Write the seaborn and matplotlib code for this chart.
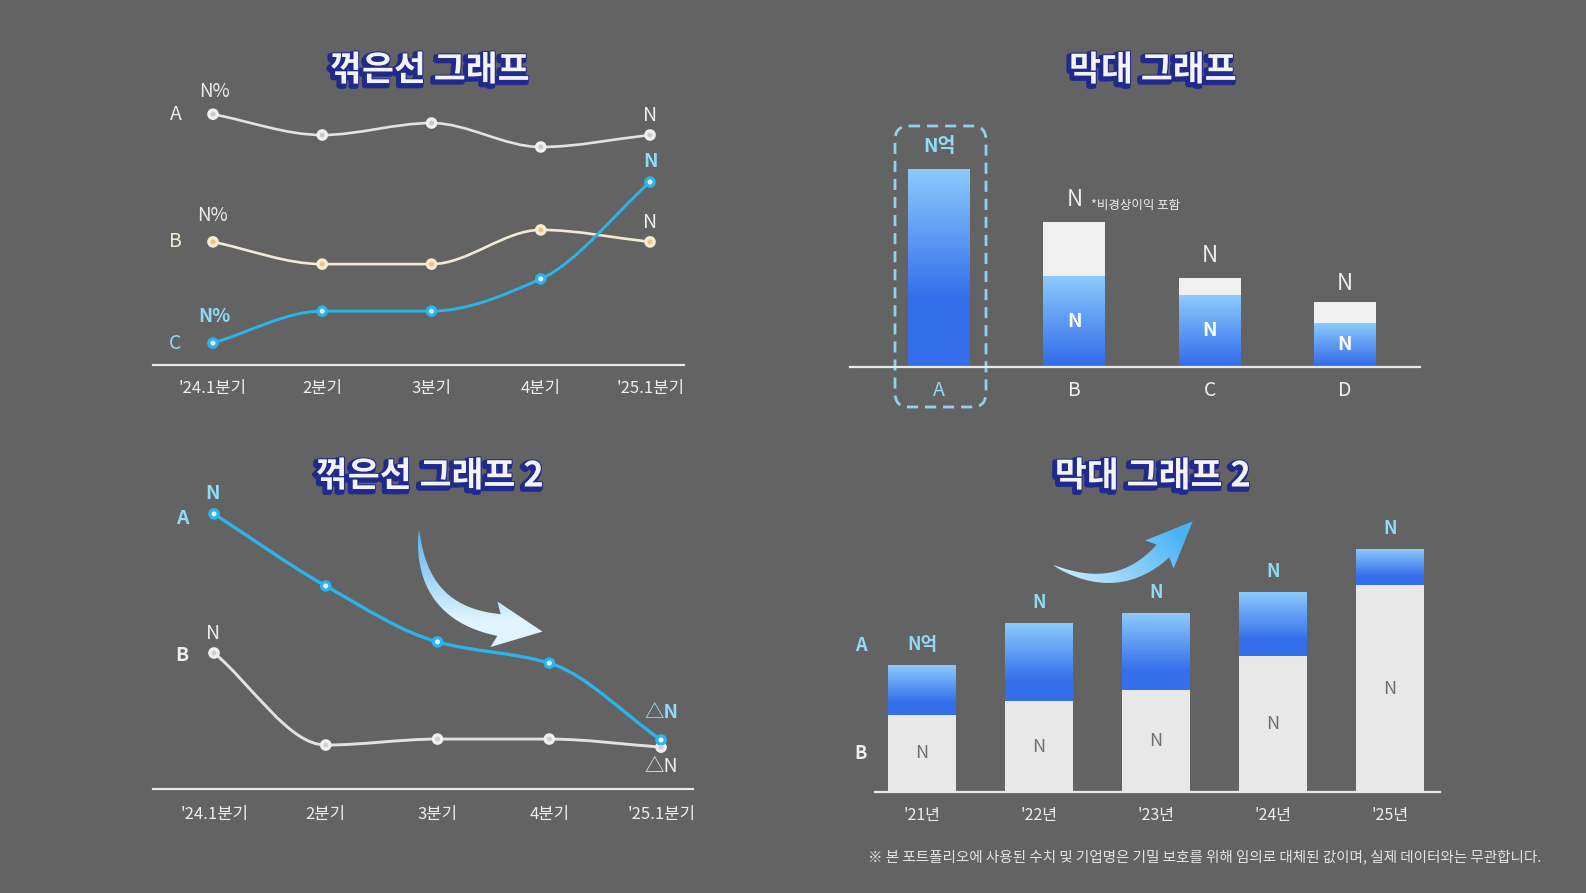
import numpy as np
import pandas as pd
import seaborn as sns
import matplotlib
matplotlib.use("Agg")
import matplotlib.pyplot as plt
import matplotlib.patheffects as pe
from matplotlib.path import Path
from matplotlib.patches import PathPatch, FancyBboxPatch, Polygon

BG = "#636363"
SKY = "#8edcf5"
BLUE = "#2bb4ec"
WHITE = "#eeeeee"
CREAM = "#f2ead4"
NAVY = "#1f2a8c"

# ---- data ----
quarters = ["'24.1분기", "2분기", "3분기", "4분기", "'25.1분기"]
line1_a = [88.0, 80.7, 84.9, 76.5, 80.7]
line1_b = [43.2, 35.4, 35.4, 47.4, 43.2]
line1_c = [7.7, 18.9, 18.9, 30.2, 64.2]

line2_a = [92.0, 67.9, 49.2, 42.1, 16.4]
line2_b = [45.5, 14.7, 16.7, 16.7, 14.0]

companies = ["A", "B", "C", "D"]
bar1_total = [198, 145, 89, 65]
bar1_core = [198, 91, 72, 44]

years = ["'21년", "'22년", "'23년", "'24년", "'25년"]
bar2_b = [77, 91, 102, 136, 207]
bar2_a = [50, 78, 77, 64, 36]

footnote = ("※ 본 포트폴리오에 사용된 수치 및 기업명은 기밀 보호를 위해 임의로 대체된 값이며, "
            "실제 데이터와는 무관합니다.")

sns.set_theme(style="white")
plt.rcParams["font.family"] = ["Noto Sans CJK KR", "DejaVu Sans"]


def smooth_path(x, y):
    # monotone cubic through the points, drawn as bezier segments
    x = np.asarray(x, float)
    y = np.asarray(y, float)
    h = np.diff(x)
    d = np.diff(y) / h
    m = np.zeros_like(y)
    m[0], m[-1] = d[0], d[-1]
    for k in range(1, len(y) - 1):
        if d[k - 1] * d[k] > 0:
            m[k] = 2 / (1 / d[k - 1] + 1 / d[k])
    verts = [(x[0], y[0])]
    codes = [Path.MOVETO]
    for k in range(len(x) - 1):
        verts += [(x[k] + h[k] / 3, y[k] + m[k] * h[k] / 3),
                  (x[k + 1] - h[k] / 3, y[k + 1] - m[k + 1] * h[k] / 3),
                  (x[k + 1], y[k + 1])]
        codes += [Path.CURVE4] * 3
    return Path(verts, codes)


def draw_line(ax, y, line_col, ring, dot, lw=1.9):
    x = np.arange(len(y))
    ax.add_patch(PathPatch(smooth_path(x, y), fill=False, edgecolor=line_col,
                           lw=lw, capstyle="round", zorder=2))
    df = pd.DataFrame({"x": x, "y": y})
    sns.scatterplot(data=df, x="x", y="y", s=70, color=ring, edgecolor="none",
                    legend=False, ax=ax, zorder=3)
    sns.scatterplot(data=df, x="x", y="y", s=13, color=dot, edgecolor="none",
                    legend=False, ax=ax, zorder=4)


def style_axis(ax, labels, size, pad):
    ax.set_facecolor("none")
    for s in ["top", "right", "left"]:
        ax.spines[s].set_visible(False)
    ax.spines["bottom"].set_color("#e9e9e9")
    ax.spines["bottom"].set_linewidth(1.6)
    ax.set_yticks([])
    ax.set_xticks(range(len(labels)))
    ax.set_xticklabels(labels)
    ax.tick_params(axis="x", length=0, pad=pad, labelsize=size, labelcolor=WHITE)
    ax.set_xlabel("")
    ax.set_ylabel("")


TOP = np.array([140, 202, 253]) / 255
BOT = np.array([52, 111, 235]) / 255


def gradient_fill(ax, patch, stop=0.7):
    x0, y0 = patch.get_x(), patch.get_y()
    w, h = patch.get_width(), patch.get_height()
    t = np.clip(np.linspace(0, 1, 200) / stop, 0, 1)[:, None]
    rgb = TOP * (1 - t) + BOT * t
    ax.imshow(rgb[:, None, :], extent=[x0, x0 + w, y0, y0 + h], origin="upper",
              aspect="auto", interpolation="bilinear", zorder=patch.get_zorder() + 0.1)


def label(ax, text, xy, dx, dy, color=WHITE, size=14, weight="normal", ha="center"):
    ax.annotate(text, xy, xytext=(dx, dy), textcoords="offset points", ha=ha,
                va="center", color=color, fontsize=size, fontweight=weight, zorder=6)


def arrow_shape(p0, p1, p2, w_end, head_w, head_len, n=80):
    # tapered curved shaft (quadratic bezier) with a triangular head
    p0, p1, p2 = (np.asarray(p, float) for p in (p0, p1, p2))
    t = np.linspace(0, 1, n)[:, None]
    pts = (1 - t) ** 2 * p0 + 2 * (1 - t) * t * p1 + t ** 2 * p2
    der = 2 * (1 - t) * (p1 - p0) + 2 * t * (p2 - p1)
    der /= np.linalg.norm(der, axis=1, keepdims=True)
    nrm = np.column_stack([-der[:, 1], der[:, 0]])
    half = (w_end / 2) * t ** 0.75
    left = pts + nrm * half
    right = pts - nrm * half
    d, q = der[-1], nrm[-1]
    tip = p2 + d * head_len
    hl = p2 + q * head_w / 2 - d * 5
    hr = p2 - q * head_w / 2 - d * 5
    return np.vstack([left, [hl, tip, hr], right[::-1]])


fig = plt.figure(figsize=(15.86, 8.93), dpi=100, facecolor=BG)
W, H = 1586, 893

# overlay for titles, box, arrows, footnote (pixel coordinates)
ov = fig.add_axes([0, 0, 1, 1])
ov.set_facecolor("none")
ov.axis("off")

title_fx = [pe.Stroke(linewidth=4, foreground=NAVY, offset=(-1.6, -1.8)),
            pe.Stroke(linewidth=1.5, foreground=NAVY), pe.Normal()]
for tx, ty, tt in [(430, 70, "꺾은선 그래프"), (1153, 70, "막대 그래프"),
                   (430, 476, "꺾은선 그래프 2"), (1153, 476, "막대 그래프 2")]:
    ov.text(tx, ty, tt, ha="center", va="center", fontsize=25, fontweight="black",
            color="#f3f3f3", path_effects=title_fx)

ov.add_patch(FancyBboxPatch((895, 126), 91, 281, boxstyle="round,pad=0,rounding_size=14",
                            fill=False, edgecolor="#8fd3ea", lw=2, linestyle=(0, (4, 2.5))))

ov.text(1541, 857, footnote, ha="right", va="center", fontsize=10.5, color="#e4e4e4")

# curved arrows with gradient fill
arrow1 = Polygon(arrow_shape((419, 530), (420, 613), (499, 625), 22, 46, 44),
                 closed=True, facecolor="none", edgecolor="none", zorder=1)
arrow2 = Polygon(arrow_shape((1053, 565), (1117, 597), (1163, 551), 18, 40, 42),
                 closed=True, facecolor="none", edgecolor="none", zorder=1)
ov.add_patch(arrow1)
ov.add_patch(arrow2)

t = np.clip(np.linspace(0, 1, 140) * 1.3, 0, 1)[:, None]
c_top = np.array([0.30, 0.69, 0.94])
c_bot = np.array([0.88, 0.96, 1.00])
g1 = c_top * (1 - t) + c_bot * t
im1 = ov.imshow(np.repeat(g1[:, None, :], 2, axis=1), extent=[405, 550, 650, 525],
                origin="upper", aspect="auto", interpolation="bilinear", zorder=2)
im1.set_clip_path(arrow1)

gx, gy = np.meshgrid(np.linspace(0, 1, 120), np.linspace(0, 1, 80))
s = np.clip((gx * 1.2 + gy * 0.6) / 1.5, 0, 1)[..., None]
c_hi = np.array([0.28, 0.70, 0.96])
c_lo = np.array([0.90, 0.97, 1.00])
g2 = c_lo * (1 - s) + c_hi * s
im2 = ov.imshow(g2, extent=[1045, 1200, 595, 510], origin="lower", aspect="auto",
                interpolation="bilinear", zorder=2)
im2.set_clip_path(arrow2)

ov.set_xlim(0, W)
ov.set_ylim(H, 0)

# ---- line chart 1 ----
ax1 = fig.add_axes([153 / W, 1 - 365 / H, 531 / W, 285 / H])
draw_line(ax1, line1_a, "#e2e2e2", "#f0f0f0", "#c9c9c9")
draw_line(ax1, line1_b, CREAM, "#f5ecd6", "#f3c07c")
draw_line(ax1, line1_c, BLUE, BLUE, "#dff3fd", lw=2.1)
style_axis(ax1, quarters, 12, 10.5)
ax1.set_xlim(-0.549, 4.311)
ax1.set_ylim(0, 100)

label(ax1, "A", (0, line1_a[0]), -27, 0, WHITE, 14)
label(ax1, "N%", (0, line1_a[0]), 1, 16, WHITE, 13.5)
label(ax1, "N", (4, line1_a[-1]), 0, 14, WHITE, 14)
label(ax1, "B", (0, line1_b[0]), -27, 0, CREAM, 14)
label(ax1, "N%", (0, line1_b[0]), 0, 19, WHITE, 13.5)
label(ax1, "N", (4, line1_b[-1]), 0, 14, WHITE, 14)
label(ax1, "C", (0, line1_c[0]), -27, 0, SKY, 14)
label(ax1, "N%", (0, line1_c[0]), 1, 19, SKY, 13.5, "bold")
label(ax1, "N", (4, line1_c[-1]), 0, 15, SKY, 14, "bold")

# ---- line chart 2 ----
ax3 = fig.add_axes([153 / W, 1 - 789 / H, 540 / W, 299 / H])
draw_line(ax3, line2_b, "#e2e2e2", "#f0f0f0", "#cfcfcf", lw=2.1)
draw_line(ax3, line2_a, BLUE, BLUE, "#dff3fd", lw=2.4)
style_axis(ax3, quarters, 12, 12)
ax3.set_xlim(-0.546, 4.286)
ax3.set_ylim(0, 100)

label(ax3, "A", (0, line2_a[0]), -23, -3, SKY, 14, "bold")
label(ax3, "N", (0, line2_a[0]), -1, 15, SKY, 14, "bold")
label(ax3, "B", (0, line2_b[0]), -23, -2, WHITE, 14, "bold")
label(ax3, "N", (0, line2_b[0]), -1, 14, WHITE, 14)
label(ax3, "△N", (4, line2_a[-1]), 0, 20, SKY, 14, "bold")
label(ax3, "△N", (4, line2_b[-1]), 0, -14, WHITE, 14)

# ---- bar chart 1 ----
ax2 = fig.add_axes([850 / W, 1 - 367 / H, 570 / W, 247 / H])
df1 = pd.DataFrame({"company": companies, "total": bar1_total, "core": bar1_core})
sns.barplot(data=df1, x="company", y="total", color="#f0f0f0", saturation=1,
            width=0.458, errorbar=None, linewidth=0, edgecolor="none", ax=ax2, zorder=2)
n = len(ax2.patches)
sns.barplot(data=df1, x="company", y="core", color=BOT, saturation=1,
            width=0.458, errorbar=None, linewidth=0, edgecolor="none", ax=ax2, zorder=2)
for p in ax2.patches[n:]:
    gradient_fill(ax2, p, stop=0.65 if p.get_height() > 150 else 0.95)
style_axis(ax2, companies, 14, 9)
ax2.get_xticklabels()[0].set_color(SKY)
ax2.set_xlim(-0.658, 3.555)
ax2.set_ylim(0, 247)

label(ax2, "N억", (0, bar1_total[0]), 0, 16, SKY, 14, "bold")
for i in range(1, 4):
    label(ax2, "N", (i, bar1_total[i]), 0, 16 if i < 3 else 13, WHITE, 16)
    label(ax2, "N", (i, bar1_core[i] / 2), 0, 0, "#ffffff", 14, "bold")
label(ax2, "*비경상이익 포함", (1, bar1_total[1]), 12, 12, WHITE, 9, ha="left")

# ---- bar chart 2 ----
ax4 = fig.add_axes([875 / W, 1 - 792 / H, 565 / W, 272 / H])
df2 = pd.DataFrame({"year": years, "B": bar2_b, "A": bar2_a})
sns.barplot(data=df2, x="year", y="B", color="#e8e8e8", saturation=1,
            width=0.581, errorbar=None, linewidth=0, edgecolor="none", ax=ax4, zorder=2)
n = len(ax4.patches)
sns.barplot(data=df2, x="year", y="A", bottom=df2["B"].values, color=BOT, saturation=1,
            width=0.581, errorbar=None, linewidth=0, edgecolor="none", ax=ax4, zorder=2)
for p in ax4.patches[n:]:
    gradient_fill(ax4, p, stop=0.75)
style_axis(ax4, years, 11.5, 11)
ax4.set_xlim(-0.402, 4.427)
ax4.set_ylim(0, 272)

for i in range(len(years)):
    top = bar2_b[i] + bar2_a[i]
    label(ax4, "N억" if i == 0 else "N", (i, top), 0, 15, SKY, 13, "bold")
    label(ax4, "N", (i, bar2_b[i] / 2), 0, 0, "#6f6f6f", 13)
label(ax4, "A", (0, bar2_b[0] + bar2_a[0]), -44, 14, SKY, 13, "bold")
label(ax4, "B", (0, bar2_b[0] / 2), -44, 0, WHITE, 13, "bold")

fig.savefig("out.png", dpi=100, facecolor=BG)
